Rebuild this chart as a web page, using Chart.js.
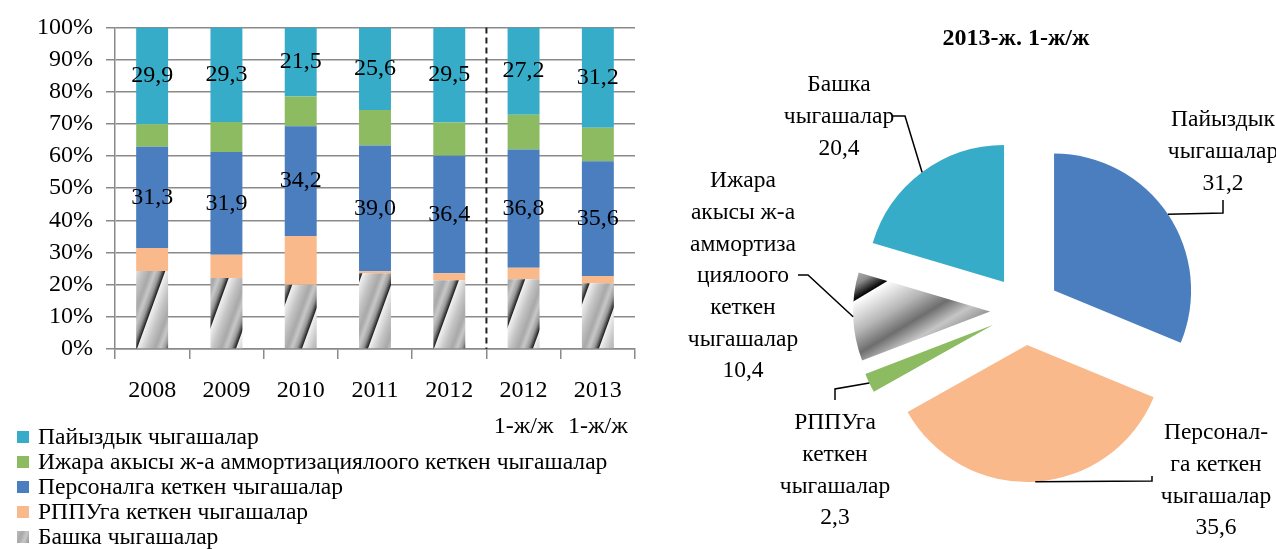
<!DOCTYPE html>
<html lang="ky">
<head>
<meta charset="UTF-8">
<title>Чыгашалардын түзүмү</title>
<style>
  html, body { margin: 0; padding: 0; background: #fff; }
  .wrap { position: relative; width: 1276px; height: 549px; }
  .left { position: absolute; left: 0; top: 0; width: 650px; height: 549px; }
  .right { position: absolute; left: 650px; top: 0; width: 626px; height: 549px; }
</style>
</head>
<body>
<div class="wrap">
  <div class="left"><canvas id="barChart"></canvas></div>
  <div class="right"><canvas id="pieChart"></canvas></div>
</div>

<script src="https://cdn.jsdelivr.net/npm/chart.js"></script>
<script>
// --- data ---
const categories = [['2008'], ['2009'], ['2010'], ['2011'], ['2012'], ['2012', '1-ж/ж'], ['2013', '1-ж/ж']];
const otherCosts    = [24.1, 22.0, 20.0, 23.5, 21.3, 21.7, 20.4]; // Башка
const rppuCosts     = [7.1, 7.2, 15.2, 0.6, 2.2, 3.6, 2.3];       // РППУга
const staffCosts    = [31.3, 31.9, 34.2, 39.0, 36.4, 36.8, 35.6]; // Персоналга
const rentCosts     = [7.0, 9.3, 9.3, 11.0, 10.3, 10.8, 10.4];    // Ижара ж-а амортизация
const interestCosts = [29.9, 29.3, 21.5, 25.6, 29.5, 27.2, 31.2]; // Пайыздык
const yTicks = [0, 10, 20, 30, 40, 50, 60, 70, 80, 90, 100];

const pieTitle = '2013-ж. 1-ж/ж';
const pieValues = [31.2, 35.6, 2.3, 10.4, 20.4];
const pieNames = [
  ['Пайыздык', 'чыгашалар'],
  ['Персонал-', 'га кеткен', 'чыгашалар'],
  ['РППУга', 'кеткен', 'чыгашалар'],
  ['Ижара', 'акысы ж-а', 'аммортиза', 'циялоого', 'кеткен', 'чыгашалар'],
  ['Башка', 'чыгашалар']
];

const SERIF = '"Liberation Serif", "Times New Roman", serif';
Chart.defaults.font.family = SERIF;
Chart.defaults.color = '#000';

const CYAN = '#37acc8', GREEN = '#8dbb62', BLUE = '#4a7ebf', PEACH = '#f9b98b';
const fmt = v => v.toFixed(1).replace('.', ',');

// gray gradient stripes like the office fill
function stripes(ctx, period, angle, stops) {
  const tile = document.createElement('canvas');
  tile.width = period; tile.height = period;
  const t = tile.getContext('2d');
  const g = t.createLinearGradient(0, 0, period, 0);
  stops.forEach(s => g.addColorStop(s[0], s[1]));
  t.fillStyle = g;
  t.fillRect(0, 0, period, period);
  const p = ctx.createPattern(tile, 'repeat');
  p.setTransform(new DOMMatrix().rotate(angle));
  return p;
}

// ---------- left: 100% stacked bars ----------
const barCanvas = document.getElementById('barChart');
const barStripes = stripes(barCanvas.getContext('2d'), 31, 20,
  [[0, '#f2f2f2'], [0.3, '#c4c4c4'], [0.55, '#a8a8a8'], [0.7, '#c8c8c8'], [0.85, '#9a9a9a'], [0.95, '#444444'], [1, '#111111']]);

const series = [
  { label: 'Башка чыгашалар', raw: otherCosts, color: barStripes },
  { label: 'РППУга кеткен чыгашалар', raw: rppuCosts, color: PEACH },
  { label: 'Персоналга кеткен чыгашалар', raw: staffCosts, color: BLUE, showValues: true },
  { label: 'Ижара акысы ж-а аммортизациялоого кеткен чыгашалар', raw: rentCosts, color: GREEN },
  { label: 'Пайыздык чыгашалар', raw: interestCosts, color: CYAN, showValues: true }
];
const totals = categories.map((c, j) => series.reduce((s, d) => s + d.raw[j], 0));

const valueLabels = {
  id: 'valueLabels',
  afterDatasetsDraw(chart) {
    const ctx = chart.ctx;
    ctx.save();
    ctx.font = '24px ' + SERIF;
    ctx.fillStyle = '#000';
    ctx.textAlign = 'center';
    ctx.textBaseline = 'middle';
    chart.data.datasets.forEach((ds, i) => {
      if (!ds.showValues) return;
      chart.getDatasetMeta(i).data.forEach((bar, j) => {
        ctx.fillText(fmt(ds.raw[j]), bar.x, (bar.y + bar.base) / 2);
      });
    });
    // dashed separator between full years and half-years
    const x = chart.scales.x;
    const sx = (x.getPixelForValue(4) + x.getPixelForValue(5)) / 2;
    ctx.strokeStyle = '#222';
    ctx.lineWidth = 2;
    ctx.setLineDash([6, 4]);
    ctx.beginPath();
    ctx.moveTo(sx, chart.chartArea.top);
    ctx.lineTo(sx, chart.chartArea.bottom);
    ctx.stroke();
    ctx.restore();
  }
};

const listLegend = {
  id: 'listLegend',
  afterDraw(chart) {
    const ctx = chart.ctx;
    const sets = chart.data.datasets.slice().reverse();
    ctx.save();
    ctx.font = '23.6px ' + SERIF;
    ctx.textBaseline = 'middle';
    sets.forEach((ds, k) => {
      const y = 437 + k * 25;
      ctx.fillStyle = ds.backgroundColor;
      ctx.fillRect(17, y - 6, 12, 12);
      ctx.fillStyle = '#000';
      ctx.fillText(ds.label, 38, y + 1);
    });
    ctx.restore();
  }
};

new Chart(barCanvas, {
  type: 'bar',
  data: {
    labels: categories,
    datasets: series.map(s => ({
      label: s.label,
      data: s.raw.map((v, j) => v / totals[j] * 100),
      raw: s.raw,
      showValues: !!s.showValues,
      backgroundColor: s.color,
      borderWidth: 0,
      barPercentage: 0.43,
      categoryPercentage: 1
    }))
  },
  options: {
    responsive: true,
    maintainAspectRatio: false,
    animation: false,
    events: [],
    layout: { padding: { top: 11, left: 24, right: 15, bottom: 90 } },
    plugins: { legend: { display: false }, tooltip: { enabled: false } },
    scales: {
      x: {
        stacked: true,
        grid: { drawOnChartArea: false, color: '#8a8a8a', lineWidth: 1.5, tickLength: 10 },
        border: { color: '#8a8a8a', width: 1.5 },
        ticks: { color: '#000', font: { size: 24, lineHeight: 1.5 }, padding: 14, maxRotation: 0, autoSkip: false }
      },
      y: {
        stacked: true,
        min: yTicks[0],
        max: yTicks[yTicks.length - 1],
        afterBuildTicks: axis => { axis.ticks = yTicks.map(v => ({ value: v })); },
        grid: { color: '#8a8a8a', lineWidth: 1.5, tickLength: 9 },
        border: { color: '#8a8a8a', width: 1.5 },
        ticks: { autoSkip: false, color: '#000', font: { size: 24 }, padding: 13, callback: v => v + '%' }
      }
    }
  },
  plugins: [valueLabels, listLegend]
});

// ---------- right: exploded pie ----------
const pieCanvas = document.getElementById('pieChart');
const pieStripes = stripes(pieCanvas.getContext('2d'), 95, 59,
  [[0, '#ffffff'], [0.3, '#b4b4b4'], [0.5, '#6e6e6e'], [0.68, '#c6c6c6'], [0.86, '#8c8c8c'], [0.97, '#1a1a1a'], [1, '#000000']]);
const EXPLODE = 35;

// label blocks and leader bends, in canvas pixels
const pieLabelPos = [
  { x: 573, y: 120, path: [[573, 213], [573, 200]] },
  { x: 566, y: 433, path: [[502, 481], [502, 476]] },
  { x: 185, y: 423, path: [[185, 389], [185, 400]] },
  { x: 93, y: 181, path: [[158, 275], [148, 275]] },
  { x: 189, y: 85, path: [[255, 116], [243, 116]] }
];

const explode = {
  id: 'explode',
  beforeDatasetDraw(chart, args) {
    const ctx = chart.ctx;
    args.meta.data.forEach(arc => {
      const mid = (arc.startAngle + arc.endAngle) / 2;
      ctx.save();
      ctx.translate(Math.cos(mid) * EXPLODE, Math.sin(mid) * EXPLODE);
      arc.draw(ctx, chart.chartArea);
      ctx.restore();
    });
    return false;
  }
};

const pieLabels = {
  id: 'pieLabels',
  afterDraw(chart) {
    const ctx = chart.ctx;
    const arcs = chart.getDatasetMeta(0).data;
    ctx.save();
    ctx.font = 'bold 24px ' + SERIF;
    ctx.fillStyle = '#000';
    ctx.textAlign = 'center';
    ctx.textBaseline = 'middle';
    ctx.fillText(pieTitle, 366, 39);

    ctx.font = '23.5px ' + SERIF;
    arcs.forEach((arc, i) => {
      const pos = pieLabelPos[i];
      const mid = (arc.startAngle + arc.endAngle) / 2;
      const r = arc.outerRadius + EXPLODE;
      ctx.strokeStyle = '#000';
      ctx.lineWidth = 1.5;
      ctx.beginPath();
      ctx.moveTo(arc.x + Math.cos(mid) * r, arc.y + Math.sin(mid) * r);
      pos.path.forEach(p => ctx.lineTo(p[0], p[1]));
      ctx.stroke();
      const lines = pieNames[i].concat([fmt(pieValues[i])]);
      lines.forEach((t, k) => ctx.fillText(t, pos.x, pos.y + k * 31.7));
    });
    ctx.restore();
  }
};

new Chart(pieCanvas, {
  type: 'pie',
  data: {
    labels: pieNames.map(n => n.join(' ')),
    datasets: [{
      data: pieValues,
      backgroundColor: [BLUE, PEACH, GREEN, pieStripes, CYAN],
      borderWidth: 0,
      radius: 137
    }]
  },
  options: {
    responsive: true,
    maintainAspectRatio: false,
    animation: false,
    events: [],
    layout: { padding: { top: 150, bottom: 79, left: 250, right: 126 } },
    plugins: { legend: { display: false }, tooltip: { enabled: false } }
  },
  plugins: [explode, pieLabels]
});
</script>
</body>
</html>
